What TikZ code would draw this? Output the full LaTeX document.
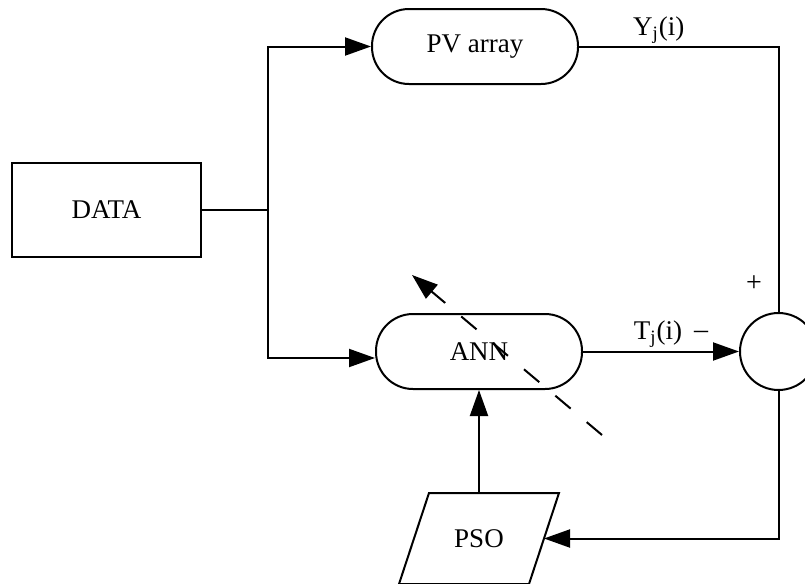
\documentclass[tikz,border=0pt]{standalone}
\usepackage{fontspec}
\setmainfont{Liberation Serif}
\usepackage{tikz}
\usetikzlibrary{arrows.meta,positioning,calc,shapes.geometric}

\begin{document}
\begin{tikzpicture}[
  x=0.5pt,y=-0.5pt,
  font=\fontsize{13.5}{15}\selectfont,
  line width=1pt,
  node distance=10pt and 10pt,
  block/.style={draw,minimum width=94.5pt,minimum height=47pt,inner sep=0pt},
  stadium/.style={draw,rounded corners=18.5pt,minimum width=103pt,minimum height=37.5pt,inner sep=0pt},
  junction/.style={draw,circle,minimum size=38.5pt,inner sep=0pt},
  io/.style={minimum width=64pt,minimum height=44.5pt,inner sep=0pt},
  sign/.style={font=\fontsize{14}{15}\selectfont,inner sep=0pt},
  arr/.style={-{Triangle[length=13pt,width=9pt]}}
]
\useasboundingbox (0,0) rectangle (805,584);
\clip (0,0) rectangle (805,584);
\node[block] (data) at (106.5,210) {DATA};
\node[stadium] (pv) at (475,46.5) {PV array};
\node[stadium,below=114pt of pv.south,anchor=north,xshift=2pt] (ann) {ANN};
\node[junction,right=78pt of ann] (sum) {};
\node[io,below=51.5pt of ann] (pso) {PSO};
\draw ([xshift=7.5pt]pso.north west) -- ([xshift=7.5pt]pso.north east)
  -- ([xshift=-7.5pt]pso.south east) -- ([xshift=-7.5pt]pso.south west) -- cycle;
\coordinate (split) at (268,210);
\coordinate (tuneS) at (602,435);
\coordinate (tuneE) at (412,275);
\node[sign] (plus) at ($(sum.north)+(-24.5,-28)$) {+};
\node[sign] (minus) at ($(sum.west)+(-38,-16.5)$) {--};
\draw (data.east) -- (split);
\draw[arr] (split) |- (pv.west);
\draw[arr] (split) |- ([yshift=-3.25pt]ann.west);
\draw (pv.east) -| node[pos=0.2,above=-2.5pt]{Y\textsubscript{j}(i)} (sum.north);
\draw[arr] (ann.east) -- node[pos=0.48,above=-2pt]{T\textsubscript{j}(i)} (sum.west);
\draw[arr] (sum.south) |- (pso.east);
\draw[arr] (pso.north) -- (ann.south);
\draw[arr,dash pattern=on 10pt off 10.5pt] (tuneS) -- (tuneE);
\end{tikzpicture}
\end{document}
